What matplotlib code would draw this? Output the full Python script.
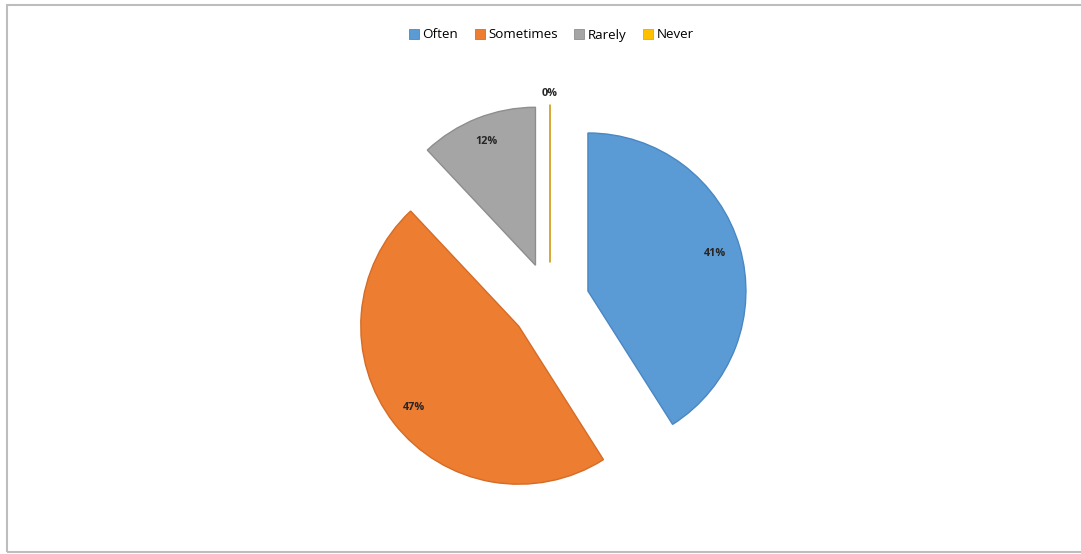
import numpy as np
import matplotlib as mpl
import matplotlib.pyplot as plt
from matplotlib.patches import Rectangle

mpl.rcParams.update({
    "font.family": ["Open Sans", "DejaVu Sans"],
})

# Data
categories = ["Often", "Sometimes", "Rarely", "Never"]
shares = [41, 47, 12, 0]
colors = ["#5B9BD5", "#ED7D31", "#A5A5A5", "#FFC000"]
edges = ["#4A87C2", "#D56C26", "#8E8E8E", "#D9A732"]

FIG_W, FIG_H, DPI = 1081, 554, 100
CX, CY, R = 550, 302, 158  # pie centre / radius in pixels
EXPLODE = 0.25


def main() -> None:
    fig = plt.figure(figsize=(FIG_W / DPI, FIG_H / DPI), dpi=DPI)
    ax = fig.add_axes([0, 0, 1, 1])

    wedges, _ = ax.pie(
        shares, colors=colors, startangle=90, counterclock=False,
        explode=[EXPLODE] * len(shares), radius=1,
        wedgeprops=dict(linewidth=1.0),
    )
    for w, ec, v in zip(wedges, edges, shares):
        w.set_edgecolor(ec)
        if v == 0:
            w.set_linewidth(1.4)

    # pie() resets the limits, so fix them afterwards
    ax.set_aspect("auto")
    ax.set_xlim(-CX / R, (FIG_W - CX) / R)
    ax.set_ylim(-(FIG_H - CY) / R, CY / R)
    ax.axis("off")

    # percentage labels
    total = sum(shares)
    for w, v in zip(wedges, shares):
        mid = np.deg2rad((w.theta1 + w.theta2) / 2)
        dist = EXPLODE + (0.84 if v > 0 else 1.07)
        ax.text(dist * np.cos(mid), dist * np.sin(mid), f"{v / total * 100:.0f}%",
                ha="center", va="center", fontsize=7.8, fontweight="bold",
                color="#262626")

    leg = fig.legend(wedges, categories, loc="center", bbox_to_anchor=(0.51, 1 - 35 / FIG_H),
                     ncol=4, frameon=False, fontsize=9.6, handlelength=0.75,
                     handleheight=0.75, handletextpad=0.25, columnspacing=1.25)
    for h in leg.legend_handles:
        h.set_linewidth(0.6)

    # chart border
    fig.patches.append(Rectangle((7 / FIG_W, 2 / FIG_H), 1.2, 1 - 7 / FIG_H,
                                 transform=fig.transFigure, fill=False,
                                 edgecolor="#BDBDBD", linewidth=1.5))

    fig.savefig("out.png", dpi=DPI)


if __name__ == "__main__":
    main()
